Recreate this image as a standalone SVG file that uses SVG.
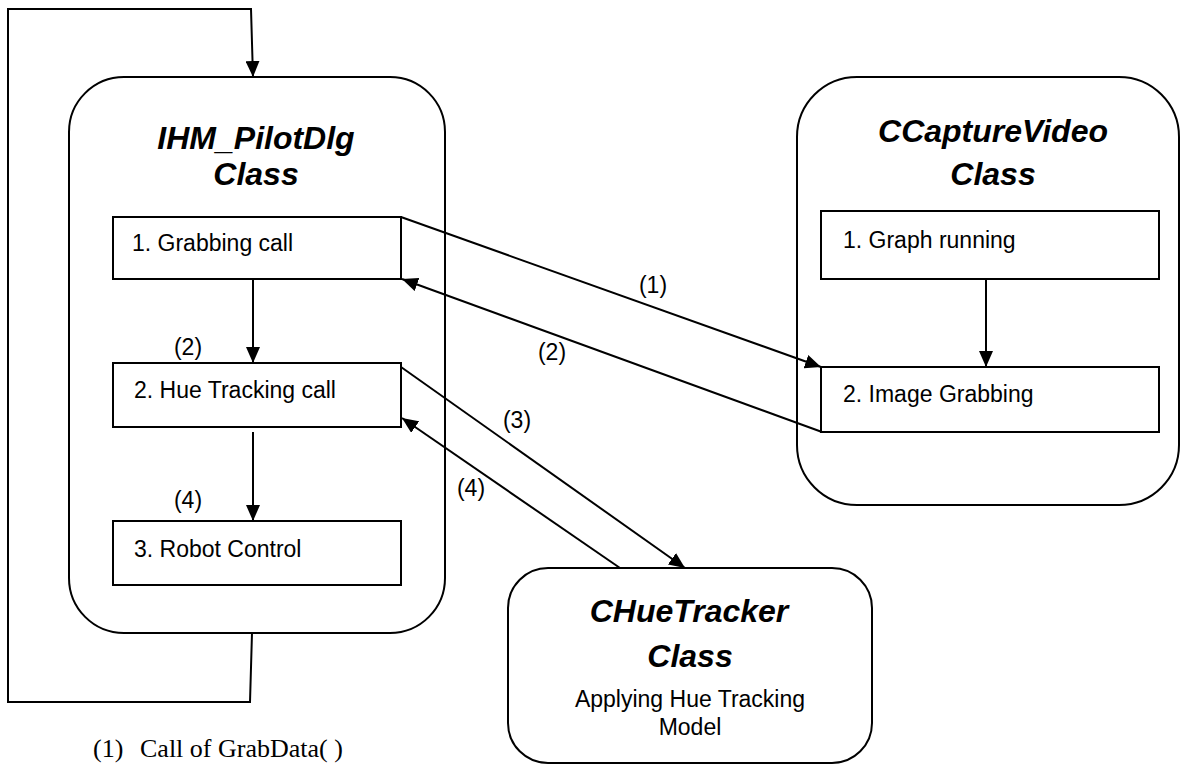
<svg xmlns="http://www.w3.org/2000/svg" width="1181" height="765" viewBox="0 0 1181 765">
<defs>
<marker id="ah" markerUnits="userSpaceOnUse" markerWidth="16" markerHeight="14" refX="16" refY="7" orient="auto">
<path d="M0,0 L16,7 L0,14 z" fill="#000"/>
</marker>
<style>
.cls{fill:#fff;stroke:#000;stroke-width:2}
.box{fill:#fff;stroke:#000;stroke-width:2}
.ttl{font-family:"Liberation Sans",Arial,sans-serif;font-weight:bold;font-style:italic;font-size:32px;text-anchor:middle;fill:#000}
.txt{font-family:"Liberation Sans",Arial,sans-serif;font-size:23px;fill:#000}
.lbl{font-family:"Liberation Sans",Arial,sans-serif;font-size:23px;fill:#000;text-anchor:middle}
.ser{font-family:"Liberation Serif","Times New Roman",serif;font-size:26px;fill:#000}
.con{fill:none;stroke:#000;stroke-width:2;marker-end:url(#ah)}
</style>
</defs>
<rect width="1181" height="765" fill="#fff"/>

<g id="ihm">
<rect class="cls" x="69" y="77" width="376" height="556" rx="55" ry="55"/>
<text class="ttl" x="256" y="149">IHM_PilotDlg</text>
<text class="ttl" x="256" y="185">Class</text>
</g>
<g id="grab">
<rect class="box" x="113" y="217" width="288" height="62"/>
<text class="txt" x="132" y="251">1. Grabbing call</text>
</g>
<g id="hue">
<rect class="box" x="113" y="363" width="288" height="64"/>
<text class="txt" x="134" y="398">2. Hue Tracking call</text>
</g>
<g id="robot">
<rect class="box" x="113" y="521" width="288" height="64"/>
<text class="txt" x="134" y="557">3. Robot Control</text>
</g>

<g id="capture">
<rect class="cls" x="797" y="77" width="382" height="428" rx="60" ry="60"/>
<text class="ttl" x="993" y="142">CCaptureVideo</text>
<text class="ttl" x="993" y="185">Class</text>
</g>
<g id="graph">
<rect class="box" x="821" y="211" width="338" height="68"/>
<text class="txt" x="843" y="248">1. Graph running</text>
</g>
<g id="imggrab">
<rect class="box" x="821" y="367" width="338" height="65"/>
<text class="txt" x="843" y="402">2. Image Grabbing</text>
</g>

<g id="huetracker">
<rect class="cls" x="508" y="568" width="364" height="195" rx="40" ry="40"/>
<text class="ttl" x="689" y="622">CHueTracker</text>
<text class="ttl" x="690" y="667">Class</text>
<text class="lbl" x="690" y="707">Applying Hue Tracking</text>
<text class="lbl" x="690" y="735">Model</text>
</g>

<g id="connectors">
<path class="con" d="M252,633 L250,702 L8,702 L8,9 L251,9 L253,77"/>
<line class="con" x1="253" y1="279" x2="253" y2="363"/>
<line class="con" x1="253" y1="432" x2="253" y2="521"/>
<line class="con" x1="986" y1="279" x2="986" y2="367"/>
<line class="con" x1="401" y1="217" x2="821" y2="367"/>
<line class="con" x1="822" y1="432" x2="402" y2="279"/>
<line class="con" x1="401" y1="367" x2="685" y2="568"/>
<line class="con" x1="620" y1="568" x2="402" y2="418"/>
</g>

<g id="labels">
<text class="lbl" x="188" y="355">(2)</text>
<text class="lbl" x="188" y="508">(4)</text>
<text class="lbl" x="653" y="293">(1)</text>
<text class="lbl" x="552" y="360">(2)</text>
<text class="lbl" x="517" y="428">(3)</text>
<text class="lbl" x="471" y="496">(4)</text>
<text class="ser" x="93" y="757">(1)</text>
<text class="ser" x="140" y="757">Call of GrabData( )</text>
</g>
</svg>
